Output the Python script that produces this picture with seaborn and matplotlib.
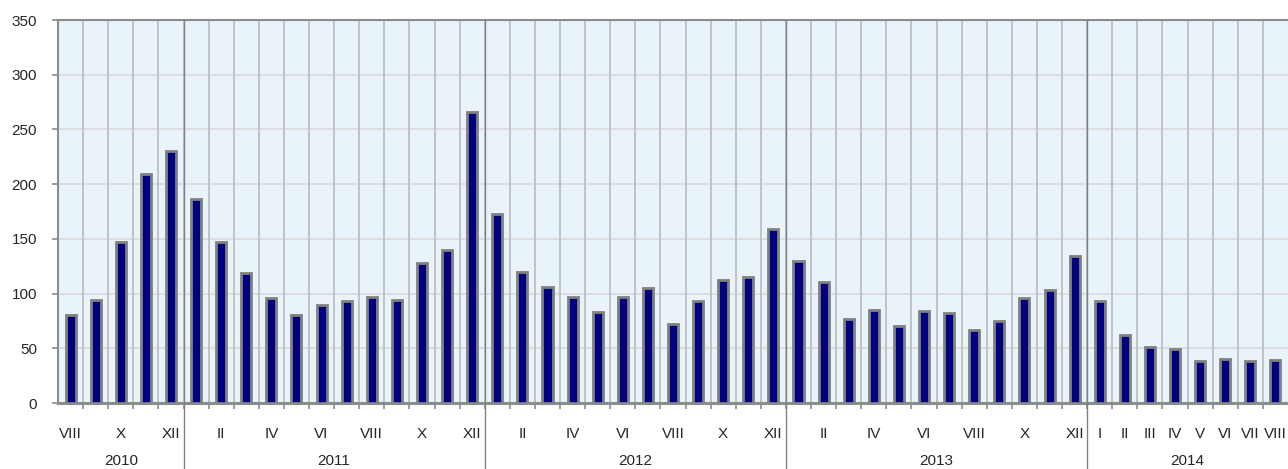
import numpy as np
import pandas as pd
import matplotlib
matplotlib.use("Agg")
import matplotlib.pyplot as plt
import matplotlib.transforms as mtransforms
import seaborn as sns

# ---------------------------------------------------------------------------
# Data (monthly values, VIII 2010 - VIII 2014)
# ---------------------------------------------------------------------------
ROMAN = ["I", "II", "III", "IV", "V", "VI", "VII", "VIII", "IX", "X", "XI", "XII"]
year_names = ["2010", "2011", "2012", "2013", "2014"]
year_months = [ROMAN[7:], ROMAN, ROMAN, ROMAN, ROMAN[:8]]

values = [
    80, 94, 147, 209, 230,                                   # 2010
    186, 147, 119, 96, 80, 90, 93, 97, 94, 128, 140, 266,    # 2011
    173, 120, 106, 97, 83, 97, 105, 72, 93, 112, 115, 159,   # 2012
    130, 111, 77, 85, 70, 84, 82, 67, 75, 96, 103, 134,      # 2013
    93, 62, 51, 49, 38, 40, 38, 39,                          # 2014
]
y_ticks = [0, 50, 100, 150, 200, 250, 300, 350]

# ---------------------------------------------------------------------------
# Style
# ---------------------------------------------------------------------------
BAR_COLOR = "#000080"
BAR_EDGE = "#808080"
PLOT_BG = "#E8F3FA"
HGRID = "#D9D9D9"
VGRID = "#BFBFBF"
YEAR_LINE = "#808080"
SPINE = "#8C8C8C"
FS = 11

sns.set_style("white")
plt.rcParams["font.family"] = ["Liberation Sans", "DejaVu Sans"]
plt.rcParams["font.size"] = FS

rows = []
for yname, mlist in zip(year_names, year_months):
    for m in mlist:
        rows.append({"key": f"{yname}-{m}", "year": yname, "month": m})
df = pd.DataFrame(rows)
df["value"] = values
n = len(df)

fig = plt.figure(figsize=(12.88, 4.69), dpi=100)
ax = fig.add_axes([58 / 1288, 66 / 469, 1230 / 1288, 383 / 469])
ax.set_facecolor(PLOT_BG)

sns.barplot(data=df, x="key", y="value", order=df["key"], color=BAR_COLOR,
            saturation=1, width=0.40, edgecolor=BAR_EDGE, linewidth=2.0,
            ax=ax, zorder=3)

ax.set_xlim(-0.5, n - 0.5)
ax.set_ylim(0, 350)
ax.set_xlabel("")
ax.set_ylabel("")

# horizontal grid
ax.set_yticks(y_ticks)
ax.set_yticklabels([str(v) for v in y_ticks])
for v in y_ticks[1:-1]:
    ax.axhline(v, color=HGRID, linewidth=1.2, zorder=1)

# month boundaries: vertical grid + small ticks below
bounds = np.arange(0.5, n - 1, 1.0)
ax.set_xticks(bounds, minor=True)
for b in bounds:
    ax.axvline(b, color=VGRID, linewidth=1.3, zorder=1)

# month labels: every second month, all months in the last year
labels = []
for _, r in df.iterrows():
    show = r["year"] == year_names[-1] or ROMAN.index(r["month"]) % 2 == 1
    labels.append(r["month"] if show else "")
ax.set_xticks(np.arange(n))
ax.set_xticklabels(labels)

ax.tick_params(axis="x", which="major", length=0, pad=17, labelsize=FS)
ax.tick_params(axis="x", which="minor", length=4, width=1.2, color=SPINE,
               direction="out", bottom=True)
ax.tick_params(axis="y", length=4, width=1.2, color=SPINE, pad=11,
               direction="out", left=True, labelsize=FS)

for side in ["top", "left", "bottom"]:
    ax.spines[side].set_visible(True)
    ax.spines[side].set_color(SPINE)
ax.spines["top"].set_linewidth(1.5)
ax.spines["left"].set_linewidth(1.5)
ax.spines["bottom"].set_linewidth(2.2)
ax.spines["right"].set_visible(False)

# year separators and year labels
trans = mtransforms.blended_transform_factory(ax.transData, ax.transAxes)
counts = [len(m) for m in year_months]
edges = np.concatenate([[0], np.cumsum(counts)]) - 0.5
for x in edges[1:-1]:
    ax.plot([x, x], [-66 / 383, 1], color=YEAR_LINE, linewidth=1.0,
            transform=trans, clip_on=False, zorder=4)
for yname, lo, hi in zip(year_names, edges[:-1], edges[1:]):
    ax.text((lo + hi) / 2, -58 / 383, yname, transform=trans,
            ha="center", va="center", fontsize=FS)

fig.savefig("out.png", dpi=100)
